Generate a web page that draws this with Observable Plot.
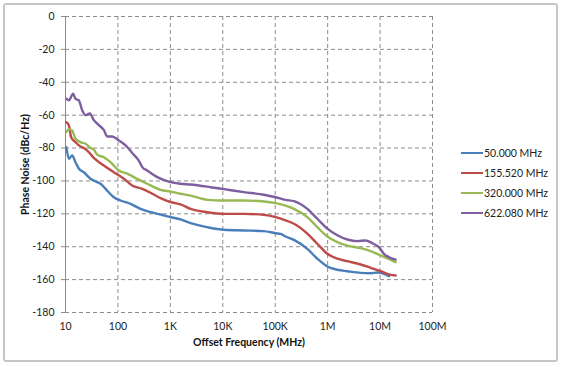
<!DOCTYPE html>
<html>
<head>
<meta charset="utf-8">
<script src="https://cdn.jsdelivr.net/npm/d3@7"></script>
<script src="https://cdn.jsdelivr.net/npm/@observablehq/plot@0.6"></script>
<style>
  body { margin: 0; background: #fff; }
  #wrap { position: relative; width: 561px; height: 367px; font-family: Lato, "Open Sans", sans-serif; }
  #frame { position: absolute; left: 3px; top: 3px; width: 551px; height: 355px; border: 2px solid #c6c6c6; border-radius: 3px; }
  #chart { position: absolute; left: 0; top: 0; }
  #legend { position: absolute; left: 461px; top: 145px; font-size: 10.5px; color: #222; }
  .row { position: absolute; left: 0; height: 16px; width: 100px; display: flex; align-items: center; white-space: nowrap; }
  .sw { width: 22px; height: 2.5px; margin-right: 1px; }
  g[aria-label="x-axis label"] text, g[aria-label="y-axis label"] text { font-weight: bold; font-size: 10.5px; fill: #111; }
</style>
</head>
<body>
<div id="wrap">
  <div id="frame"></div>
  <div id="chart"></div>
  <div id="legend"></div>
</div>
<script>
// Series names and colours
const seriesNames = ["50.000 MHz", "155.520 MHz", "320.000 MHz", "622.080 MHz"];
const seriesColors = ["#4A7EBB", "#BE4B48", "#98B954", "#7D5FA0"];

// Axis ticks
const xTicks = [10, 100, 1e3, 1e4, 1e5, 1e6, 1e7, 1e8];
const xTickLabels = ["10", "100", "1K", "10K", "100K", "1M", "10M", "100M"];
const yTicks = [0, -20, -40, -60, -80, -100, -120, -140, -160, -180];

// 50.000 MHz
const f50 = [10.4, 11.6, 13.4, 15.5, 18.0, 22.4, 30, 40.3, 46.6, 58, 83.5, 112, 174, 270, 419, 650, 1009, 1566, 2428, 5058, 10500, 25290, 60850, 101900, 126800, 157900, 227500, 410000, 635800, 986000, 1531000, 2377000, 4266000, 6615000, 8875000, 11860000, 14790000];
const v50 = [-79.5, -86.5, -84.5, -88.6, -92.6, -94.7, -98.7, -100.7, -101.7, -104.8, -109.9, -111.9, -113.9, -117, -119, -120.4, -122, -123.4, -125.7, -128.1, -129.7, -130.1, -130.5, -131.8, -132.2, -133.8, -135.8, -141.3, -147.3, -152, -154, -154.9, -155.9, -156.1, -155.7, -156.5, -157.9];

// 155.520 MHz
const f155 = [10.4, 11.6, 12.8, 15.5, 18.0, 22.4, 27.8, 34.7, 53.8, 83.5, 130, 187, 291, 452, 700, 1009, 1566, 2428, 5058, 10500, 25290, 60850, 101900, 157900, 227500, 410000, 635800, 986000, 1531000, 2377000, 4266000, 6615000, 10260000, 15930000, 19860000];
const v155 = [-64.3, -66.3, -73.4, -76.4, -78.4, -80, -82.5, -86, -90.6, -94.7, -98.7, -102.8, -104.8, -107.8, -110.9, -112.8, -114.3, -117, -119, -120, -120, -120.6, -122, -124, -126, -132, -138.2, -144.3, -147.3, -148.8, -150.8, -152.8, -154.9, -157.1, -157.5];

// 320.000 MHz
const f320 = [10.4, 11.6, 13.4, 15.5, 19.3, 24.1, 30, 34.7, 40.3, 53.8, 72.2, 104, 150, 233, 362, 650, 1009, 1566, 2428, 5058, 10500, 25290, 60850, 101900, 157900, 227500, 410000, 635800, 986000, 1531000, 2377000, 4266000, 6615000, 10260000, 19860000];
const v320 = [-70.3, -68.5, -69.3, -74.4, -76.4, -77.4, -80, -81, -84, -85.6, -88.6, -93.7, -95.6, -98.7, -101.7, -105.4, -106.5, -107.8, -108.9, -111.5, -111.9, -111.9, -112.5, -113.5, -115, -117, -122, -128.1, -133.8, -137.2, -139.3, -140.9, -142.7, -145.3, -149.4];

// 622.080 MHz
const f622 = [10.4, 11.6, 14.0, 15.5, 18.0, 20.8, 24.1, 29.1, 34.7, 43.2, 53.8, 62.5, 77.9, 104, 140, 187, 250, 291, 362, 562, 1009, 1566, 2428, 5850, 10500, 25290, 60850, 101900, 157900, 227500, 410000, 635800, 986000, 1531000, 2377000, 3689000, 5309000, 7130000, 9524000, 11860000, 19860000];
const v622 = [-50, -51, -47, -50, -51, -57, -60, -59, -63, -66, -69, -73, -73, -75.4, -78.4, -83, -87.6, -91.6, -93.7, -97.7, -100.7, -101.7, -102.2, -103.8, -105, -106.8, -108.4, -109.9, -111.5, -112.3, -117, -123, -129, -133, -135.6, -136.6, -136.2, -137.9, -140.3, -144.3, -147.8];

const seriesF = [f50, f155, f320, f622];
const seriesV = [v50, v155, v320, v622];
const rows = seriesNames.flatMap((name, k) => seriesF[k].map((f, i) => ({f, v: seriesV[k][i], s: name})));

const xLabelMap = new Map(xTicks.map((t, i) => [t, xTickLabels[i]]));
const grid = {stroke: "#8c8c8c", strokeOpacity: 1, strokeWidth: 1, strokeDasharray: "4,3"};

const chart = Plot.plot({
  width: 561, height: 367,
  marginLeft: 65, marginRight: 129, marginTop: 16, marginBottom: 55,
  style: {fontFamily: "Lato, 'Open Sans', sans-serif", fontSize: "10.5px", color: "#222", background: "transparent"},
  x: {type: "log", domain: [10, 1e8]},
  y: {domain: [-180, 0]},
  color: {domain: seriesNames, range: seriesColors},
  marks: [
    Plot.ruleX(xTicks.slice(1), grid),
    Plot.ruleY(yTicks, grid),
    Plot.ruleX([10], {stroke: "#8c8c8c", strokeWidth: 1}),
    Plot.axisY({ticks: yTicks, tickSize: 4, tickPadding: 7, tickFormat: d => String(d), stroke: "#8c8c8c",
      label: "Phase Noise (dBc/Hz)", labelAnchor: "center", labelOffset: 44, labelArrow: "none"}),
    Plot.axisX({ticks: xTicks, tickSize: 0, tickPadding: 10, tickFormat: d => xLabelMap.get(d),
      label: "Offset Frequency (MHz)", labelAnchor: "center", labelOffset: 33, labelArrow: "none"}),
    Plot.line(rows, {x: "f", y: "v", stroke: "s", z: "s", strokeWidth: 2.4, curve: "monotone-x"})
  ]
});
document.getElementById("chart").appendChild(chart);

const legend = document.getElementById("legend");
seriesNames.forEach((name, i) => {
  const row = document.createElement("div");
  row.className = "row";
  row.style.top = (i * 20) + "px";
  row.innerHTML = `<span class="sw" style="background:${seriesColors[i]}"></span><span>${name}</span>`;
  legend.appendChild(row);
});
</script>
</body>
</html>
